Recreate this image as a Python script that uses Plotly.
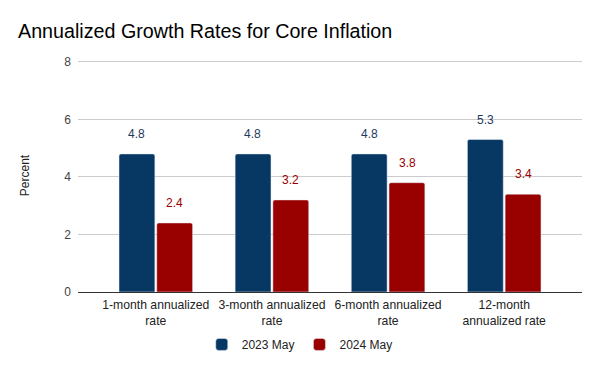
import plotly.graph_objects as go

categories = ["1-month annualized<br>rate", "3-month annualized<br>rate",
              "6-month annualized<br>rate", "12-month<br>annualized rate"]
may_2023 = [4.8, 4.8, 4.8, 5.3]
may_2024 = [2.4, 3.2, 3.8, 3.4]
y_ticks = [0, 2, 4, 6, 8]

FONT = "Liberation Sans, Arial, sans-serif"
BLUE = "#073763"
RED = "#990000"

fig = go.Figure()
fig.add_trace(go.Bar(name="2023 May", x=categories, y=may_2023, marker_color=BLUE))
fig.add_trace(go.Bar(name="2024 May", x=categories, y=may_2024, marker_color=RED))

# data labels above each bar
slot_px = 19  # half of a bar slot within a group
for vals, color, shift in [(may_2023, "#1c3a5e", -slot_px), (may_2024, RED, slot_px)]:
    for c, v in zip(categories, vals):
        fig.add_annotation(x=c, y=v, text=f"{v:.1f}", showarrow=False,
                           xshift=shift, yshift=20, yanchor="middle",
                           font=dict(size=12, color=color, family=FONT))

fig.update_layout(
    width=600, height=371,
    margin=dict(l=78, r=18, t=59, b=79),
    paper_bgcolor="white", plot_bgcolor="white",
    barmode="group", bargap=0.35, bargroupgap=0.05,
    barcornerradius=2,
    font=dict(family=FONT, color="#222222"),
    title=dict(text="Annualized Growth Rates for Core Inflation",
               x=0.03, xanchor="left", y=0.915, yanchor="middle",
               font=dict(size=19.7, color="#000000", family=FONT)),
    xaxis=dict(range=[-0.67, 3.67], showgrid=False, ticks="",
               tickfont=dict(size=12.2, color="#222222"), showline=False,
               ticklabelstandoff=4, tickangle=0),
    yaxis=dict(range=[0, 8.1], tickvals=y_ticks, gridcolor="#cccccc",
               zeroline=True, zerolinecolor="#333333", zerolinewidth=1,
               tickfont=dict(size=12, color="#444444"), ticks="",
               ticklabelstandoff=6,
               title=dict(text="Percent", font=dict(size=12, color="#222222"), standoff=32)),
    legend=dict(orientation="h", x=0.44, xanchor="center",
                y=-0.225, yanchor="middle",
                font=dict(size=12, color="#222222"), itemwidth=30),
    showlegend=True,
)

fig.write_html("out.html", config={"displayModeBar": False},
               post_script="document.body.style.margin='0';document.body.style.overflow='hidden';")
